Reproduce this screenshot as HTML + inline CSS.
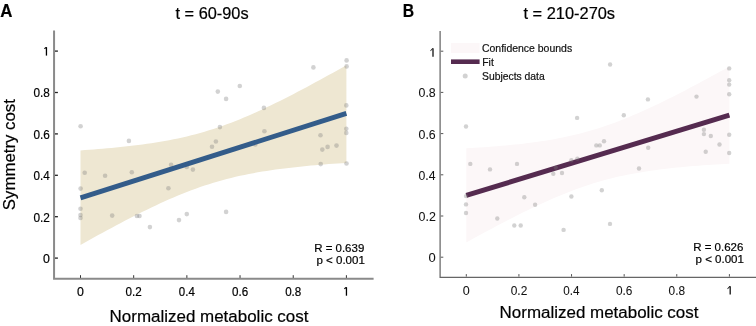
<!DOCTYPE html>
<html><head><meta charset="utf-8"><style>
html,body{margin:0;padding:0;background:#fff;}
svg{display:block;will-change:transform;}
text{font-family:"Liberation Sans",sans-serif;}
</style></head><body>
<svg width="756" height="326" viewBox="0 0 756 326">
<path d="M80.50,150.39 L84.93,150.08 L89.36,149.76 L93.80,149.42 L98.23,149.07 L102.66,148.70 L107.09,148.32 L111.52,147.92 L115.95,147.49 L120.38,147.05 L124.82,146.58 L129.25,146.09 L133.68,145.57 L138.11,145.03 L142.54,144.45 L146.97,143.83 L151.41,143.19 L155.84,142.50 L160.27,141.77 L164.70,141.00 L169.13,140.19 L173.56,139.32 L178.00,138.40 L182.43,137.43 L186.86,136.40 L191.29,135.31 L195.72,134.16 L200.15,132.94 L204.59,131.67 L209.02,130.32 L213.45,128.92 L217.88,127.44 L222.31,125.90 L226.75,124.30 L231.18,122.64 L235.61,120.91 L240.04,119.13 L244.47,117.29 L248.90,115.40 L253.33,113.46 L257.77,111.46 L262.20,109.43 L266.63,107.35 L271.06,105.23 L275.49,103.07 L279.92,100.88 L284.36,98.66 L288.79,96.41 L293.22,94.13 L297.65,91.82 L302.08,89.49 L306.51,87.14 L310.95,84.76 L315.38,82.37 L319.81,79.96 L324.24,77.53 L328.67,75.09 L333.10,72.63 L337.54,70.16 L341.97,67.67 L346.40,65.18 L346.40,162.88 L341.97,163.17 L337.54,163.48 L333.10,163.79 L328.67,164.12 L324.24,164.46 L319.81,164.82 L315.38,165.20 L310.95,165.59 L306.51,166.01 L302.08,166.44 L297.65,166.90 L293.22,167.38 L288.79,167.89 L284.36,168.42 L279.92,168.99 L275.49,169.58 L271.06,170.21 L266.63,170.88 L262.20,171.59 L257.77,172.34 L253.33,173.14 L248.90,173.98 L244.47,174.88 L240.04,175.83 L235.61,176.83 L231.18,177.90 L226.75,179.02 L222.31,180.21 L217.88,181.45 L213.45,182.77 L209.02,184.15 L204.59,185.59 L200.15,187.10 L195.72,188.68 L191.29,190.31 L186.86,192.01 L182.43,193.77 L178.00,195.58 L173.56,197.45 L169.13,199.37 L164.70,201.35 L160.27,203.36 L155.84,205.42 L151.41,207.52 L146.97,209.66 L142.54,211.84 L138.11,214.05 L133.68,216.29 L129.25,218.56 L124.82,220.85 L120.38,223.17 L115.95,225.52 L111.52,227.88 L107.09,230.27 L102.66,232.67 L98.23,235.09 L93.80,237.53 L89.36,239.98 L84.93,242.45 L80.50,244.93Z" fill="#eee7d2"/>
<circle cx="80.6" cy="126.3" r="2.3" fill="#7a7a7a" fill-opacity="0.34"/>
<circle cx="128.9" cy="140.9" r="2.3" fill="#7a7a7a" fill-opacity="0.34"/>
<circle cx="84.7" cy="172.8" r="2.3" fill="#7a7a7a" fill-opacity="0.34"/>
<circle cx="105.1" cy="175.7" r="2.3" fill="#7a7a7a" fill-opacity="0.34"/>
<circle cx="131.8" cy="172.3" r="2.3" fill="#7a7a7a" fill-opacity="0.34"/>
<circle cx="80.6" cy="188.6" r="2.3" fill="#7a7a7a" fill-opacity="0.34"/>
<circle cx="80.5" cy="208.7" r="2.3" fill="#7a7a7a" fill-opacity="0.34"/>
<circle cx="80.5" cy="215" r="2.3" fill="#7a7a7a" fill-opacity="0.34"/>
<circle cx="80.5" cy="218" r="2.3" fill="#7a7a7a" fill-opacity="0.34"/>
<circle cx="112.2" cy="215.6" r="2.3" fill="#7a7a7a" fill-opacity="0.34"/>
<circle cx="136.9" cy="216" r="2.3" fill="#7a7a7a" fill-opacity="0.34"/>
<circle cx="139.5" cy="216" r="2.3" fill="#7a7a7a" fill-opacity="0.34"/>
<circle cx="149.9" cy="227.1" r="2.3" fill="#7a7a7a" fill-opacity="0.34"/>
<circle cx="179" cy="220.1" r="2.3" fill="#7a7a7a" fill-opacity="0.34"/>
<circle cx="186.8" cy="214.1" r="2.3" fill="#7a7a7a" fill-opacity="0.34"/>
<circle cx="226.1" cy="211.9" r="2.3" fill="#7a7a7a" fill-opacity="0.34"/>
<circle cx="168.4" cy="188.3" r="2.3" fill="#7a7a7a" fill-opacity="0.34"/>
<circle cx="171.1" cy="164.8" r="2.3" fill="#7a7a7a" fill-opacity="0.34"/>
<circle cx="186.8" cy="167" r="2.3" fill="#7a7a7a" fill-opacity="0.34"/>
<circle cx="192.9" cy="169.6" r="2.3" fill="#7a7a7a" fill-opacity="0.34"/>
<circle cx="212" cy="146.8" r="2.3" fill="#7a7a7a" fill-opacity="0.34"/>
<circle cx="215.9" cy="141.5" r="2.3" fill="#7a7a7a" fill-opacity="0.34"/>
<circle cx="219.9" cy="127.1" r="2.3" fill="#7a7a7a" fill-opacity="0.34"/>
<circle cx="217.8" cy="91.6" r="2.3" fill="#7a7a7a" fill-opacity="0.34"/>
<circle cx="239.8" cy="86" r="2.3" fill="#7a7a7a" fill-opacity="0.34"/>
<circle cx="226.1" cy="98.9" r="2.3" fill="#7a7a7a" fill-opacity="0.34"/>
<circle cx="263.9" cy="107.9" r="2.3" fill="#7a7a7a" fill-opacity="0.34"/>
<circle cx="264.4" cy="131.2" r="2.3" fill="#7a7a7a" fill-opacity="0.34"/>
<circle cx="255.3" cy="144.4" r="2.3" fill="#7a7a7a" fill-opacity="0.34"/>
<circle cx="313.4" cy="67.4" r="2.3" fill="#7a7a7a" fill-opacity="0.34"/>
<circle cx="346.6" cy="60.4" r="2.3" fill="#7a7a7a" fill-opacity="0.34"/>
<circle cx="346.6" cy="66.4" r="2.3" fill="#7a7a7a" fill-opacity="0.34"/>
<circle cx="346.3" cy="105.4" r="2.3" fill="#7a7a7a" fill-opacity="0.34"/>
<circle cx="346.3" cy="128.7" r="2.3" fill="#7a7a7a" fill-opacity="0.34"/>
<circle cx="346.3" cy="132.9" r="2.3" fill="#7a7a7a" fill-opacity="0.34"/>
<circle cx="320.5" cy="135.3" r="2.3" fill="#7a7a7a" fill-opacity="0.34"/>
<circle cx="322.3" cy="149.6" r="2.3" fill="#7a7a7a" fill-opacity="0.34"/>
<circle cx="327.6" cy="146.9" r="2.3" fill="#7a7a7a" fill-opacity="0.34"/>
<circle cx="336.5" cy="145.6" r="2.3" fill="#7a7a7a" fill-opacity="0.34"/>
<circle cx="320.7" cy="164.1" r="2.3" fill="#7a7a7a" fill-opacity="0.34"/>
<circle cx="346.5" cy="163.5" r="2.3" fill="#7a7a7a" fill-opacity="0.34"/>
<line x1="80.50" y1="197.86" x2="346.40" y2="113.41" stroke="#335c8a" stroke-width="4.9"/>
<path d="M54.06,30.4 V278.8 H373.6" fill="none" stroke="#8a8a8a" stroke-width="2"/>
<line x1="55" y1="258.10" x2="57.9" y2="258.10" stroke="#222" stroke-width="1.3"/>
<line x1="80.50" y1="277.9" x2="80.50" y2="275.2" stroke="#333" stroke-width="1"/>
<line x1="55" y1="216.70" x2="57.9" y2="216.70" stroke="#222" stroke-width="1.3"/>
<line x1="133.68" y1="277.9" x2="133.68" y2="275.2" stroke="#333" stroke-width="1"/>
<line x1="55" y1="175.30" x2="57.9" y2="175.30" stroke="#222" stroke-width="1.3"/>
<line x1="186.86" y1="277.9" x2="186.86" y2="275.2" stroke="#333" stroke-width="1"/>
<line x1="55" y1="133.90" x2="57.9" y2="133.90" stroke="#222" stroke-width="1.3"/>
<line x1="240.04" y1="277.9" x2="240.04" y2="275.2" stroke="#333" stroke-width="1"/>
<line x1="55" y1="92.50" x2="57.9" y2="92.50" stroke="#222" stroke-width="1.3"/>
<line x1="293.22" y1="277.9" x2="293.22" y2="275.2" stroke="#333" stroke-width="1"/>
<line x1="55" y1="51.10" x2="57.9" y2="51.10" stroke="#222" stroke-width="1.3"/>
<line x1="346.40" y1="277.9" x2="346.40" y2="275.2" stroke="#333" stroke-width="1"/>
<text transform="translate(42.91,262.95) scale(0.9906,1)" font-size="12.47" font-weight="normal" fill="#000" stroke="#000" stroke-width="0.2">0</text>
<text transform="translate(33.43,221.55) scale(0.9497,1)" font-size="12.47" font-weight="normal" fill="#000" stroke="#000" stroke-width="0.2">0.2</text>
<text transform="translate(33.43,180.15) scale(0.9336,1)" font-size="12.47" font-weight="normal" fill="#000" stroke="#000" stroke-width="0.2">0.4</text>
<text transform="translate(33.43,138.75) scale(0.9443,1)" font-size="12.47" font-weight="normal" fill="#000" stroke="#000" stroke-width="0.2">0.6</text>
<text transform="translate(33.43,97.35) scale(0.9443,1)" font-size="12.47" font-weight="normal" fill="#000" stroke="#000" stroke-width="0.2">0.8</text>
<path d="M46.45,55.60 V47.30" stroke="#000" stroke-width="1.3" fill="none"/>
<path d="M47.10,47.00 L45.80,47.00 L44.10,48.20 L44.40,49.10 L45.80,48.40Z" fill="#000"/>
<text transform="translate(77.06,295.70) scale(1.0021,1)" font-size="12.33" font-weight="normal" fill="#000" stroke="#000" stroke-width="0.2">0</text>
<text transform="translate(125.61,295.70) scale(0.9483,1)" font-size="12.33" font-weight="normal" fill="#000" stroke="#000" stroke-width="0.2">0.2</text>
<text transform="translate(178.80,295.70) scale(0.9322,1)" font-size="12.33" font-weight="normal" fill="#000" stroke="#000" stroke-width="0.2">0.4</text>
<text transform="translate(231.97,295.70) scale(0.9429,1)" font-size="12.33" font-weight="normal" fill="#000" stroke="#000" stroke-width="0.2">0.6</text>
<text transform="translate(285.15,295.70) scale(0.9429,1)" font-size="12.33" font-weight="normal" fill="#000" stroke="#000" stroke-width="0.2">0.8</text>
<path d="M346.45,295.70 V287.40" stroke="#000" stroke-width="1.3" fill="none"/>
<path d="M347.10,287.10 L345.80,287.10 L344.10,288.30 L344.40,289.20 L345.80,288.50Z" fill="#000"/>
<text transform="translate(175.55,19.40) scale(1.0360,1)" font-size="15.77" font-weight="normal" fill="#000" stroke="#000" stroke-width="0.2">t = 60-90s</text>
<text transform="translate(109.60,321.50) scale(0.9805,1)" font-size="17.31" font-weight="normal" fill="#000" stroke="#000" stroke-width="0.2">Normalized metabolic cost</text>
<text transform="translate(14.70,210.16) rotate(-90) scale(0.9714,1)" font-size="17.31" fill="#000" stroke="#000" stroke-width="0.2">Symmetry cost</text>
<text transform="translate(314.15,251.80) scale(1.0136,1)" font-size="11.35" font-weight="normal" fill="#000" stroke="#000" stroke-width="0.2">R = 0.639</text>
<text transform="translate(316.45,263.80) scale(1.0180,1)" font-size="11.33" font-weight="normal" fill="#000" stroke="#000" stroke-width="0.2">p &lt; 0.001</text>
<text transform="translate(0.28,16.80) scale(0.8851,1)" font-size="19.05" font-weight="bold" fill="#000" stroke="#000" stroke-width="0.2">A</text>
<path d="M466.30,148.36 L470.69,148.10 L475.07,147.83 L479.46,147.54 L483.84,147.24 L488.23,146.92 L492.61,146.59 L497.00,146.24 L501.38,145.87 L505.76,145.47 L510.15,145.06 L514.53,144.61 L518.92,144.15 L523.31,143.65 L527.69,143.12 L532.08,142.56 L536.46,141.96 L540.85,141.33 L545.23,140.65 L549.62,139.93 L554.00,139.17 L558.38,138.35 L562.77,137.49 L567.15,136.57 L571.54,135.59 L575.93,134.55 L580.31,133.46 L584.70,132.30 L589.08,131.07 L593.47,129.79 L597.85,128.43 L602.24,127.01 L606.62,125.53 L611.00,123.99 L615.39,122.38 L619.78,120.71 L624.16,118.98 L628.55,117.20 L632.93,115.37 L637.32,113.48 L641.70,111.55 L646.09,109.57 L650.47,107.55 L654.86,105.49 L659.24,103.39 L663.62,101.26 L668.01,99.09 L672.39,96.90 L676.78,94.68 L681.16,92.43 L685.55,90.16 L689.94,87.87 L694.32,85.55 L698.71,83.22 L703.09,80.87 L707.48,78.50 L711.86,76.11 L716.25,73.72 L720.63,71.30 L725.02,68.88 L729.40,66.44 L729.40,163.68 L725.02,163.92 L720.63,164.17 L716.25,164.44 L711.86,164.72 L707.48,165.01 L703.09,165.32 L698.71,165.65 L694.32,165.99 L689.94,166.36 L685.55,166.74 L681.16,167.15 L676.78,167.58 L672.39,168.03 L668.01,168.52 L663.62,169.03 L659.24,169.58 L654.86,170.16 L650.47,170.78 L646.09,171.43 L641.70,172.13 L637.32,172.88 L632.93,173.67 L628.55,174.51 L624.16,175.41 L619.78,176.36 L615.39,177.37 L611.00,178.44 L606.62,179.57 L602.24,180.77 L597.85,182.03 L593.47,183.35 L589.08,184.74 L584.70,186.20 L580.31,187.71 L575.93,189.30 L571.54,190.94 L567.15,192.64 L562.77,194.40 L558.38,196.21 L554.00,198.07 L549.62,199.98 L545.23,201.94 L540.85,203.95 L536.46,205.99 L532.08,208.07 L527.69,210.19 L523.31,212.34 L518.92,214.52 L514.53,216.73 L510.15,218.96 L505.76,221.23 L501.38,223.51 L497.00,225.82 L492.61,228.14 L488.23,230.49 L483.84,232.85 L479.46,235.22 L475.07,237.62 L470.69,240.02 L466.30,242.44Z" fill="#fcf7f8"/>
<line x1="466.30" y1="195.40" x2="729.40" y2="115.06" stroke="#552b50" stroke-width="5"/>
<circle cx="466" cy="126.5" r="2.2" fill="#7a7a7a" fill-opacity="0.34"/>
<circle cx="470.3" cy="163.9" r="2.2" fill="#7a7a7a" fill-opacity="0.34"/>
<circle cx="490" cy="169.4" r="2.2" fill="#7a7a7a" fill-opacity="0.34"/>
<circle cx="517" cy="163.9" r="2.2" fill="#7a7a7a" fill-opacity="0.34"/>
<circle cx="553.3" cy="173.8" r="2.2" fill="#7a7a7a" fill-opacity="0.34"/>
<circle cx="562" cy="173" r="2.2" fill="#7a7a7a" fill-opacity="0.34"/>
<circle cx="555.8" cy="167.6" r="2.2" fill="#7a7a7a" fill-opacity="0.34"/>
<circle cx="571.4" cy="160.2" r="2.2" fill="#7a7a7a" fill-opacity="0.34"/>
<circle cx="577.4" cy="158.6" r="2.2" fill="#7a7a7a" fill-opacity="0.34"/>
<circle cx="524.3" cy="197.2" r="2.2" fill="#7a7a7a" fill-opacity="0.34"/>
<circle cx="571.4" cy="196.5" r="2.2" fill="#7a7a7a" fill-opacity="0.34"/>
<circle cx="466" cy="196.1" r="2.2" fill="#7a7a7a" fill-opacity="0.34"/>
<circle cx="466" cy="204.4" r="2.2" fill="#7a7a7a" fill-opacity="0.34"/>
<circle cx="466" cy="213" r="2.2" fill="#7a7a7a" fill-opacity="0.34"/>
<circle cx="497.3" cy="218.5" r="2.2" fill="#7a7a7a" fill-opacity="0.34"/>
<circle cx="514.3" cy="225.5" r="2.2" fill="#7a7a7a" fill-opacity="0.34"/>
<circle cx="520.7" cy="225.5" r="2.2" fill="#7a7a7a" fill-opacity="0.34"/>
<circle cx="535.1" cy="204.7" r="2.2" fill="#7a7a7a" fill-opacity="0.34"/>
<circle cx="563.6" cy="229.9" r="2.2" fill="#7a7a7a" fill-opacity="0.34"/>
<circle cx="610.1" cy="64.5" r="2.2" fill="#7a7a7a" fill-opacity="0.34"/>
<circle cx="647.9" cy="99.4" r="2.2" fill="#7a7a7a" fill-opacity="0.34"/>
<circle cx="577.1" cy="117.9" r="2.2" fill="#7a7a7a" fill-opacity="0.34"/>
<circle cx="623.8" cy="115.3" r="2.2" fill="#7a7a7a" fill-opacity="0.34"/>
<circle cx="596.3" cy="145.4" r="2.2" fill="#7a7a7a" fill-opacity="0.34"/>
<circle cx="599.8" cy="145.4" r="2.2" fill="#7a7a7a" fill-opacity="0.34"/>
<circle cx="604" cy="141.3" r="2.2" fill="#7a7a7a" fill-opacity="0.34"/>
<circle cx="648.2" cy="147.7" r="2.2" fill="#7a7a7a" fill-opacity="0.34"/>
<circle cx="639" cy="168.5" r="2.2" fill="#7a7a7a" fill-opacity="0.34"/>
<circle cx="601.8" cy="190.2" r="2.2" fill="#7a7a7a" fill-opacity="0.34"/>
<circle cx="610" cy="223.9" r="2.2" fill="#7a7a7a" fill-opacity="0.34"/>
<circle cx="729.2" cy="68.4" r="2.2" fill="#7a7a7a" fill-opacity="0.34"/>
<circle cx="729.2" cy="80.2" r="2.2" fill="#7a7a7a" fill-opacity="0.34"/>
<circle cx="729.2" cy="84.6" r="2.2" fill="#7a7a7a" fill-opacity="0.34"/>
<circle cx="729.2" cy="94.2" r="2.2" fill="#7a7a7a" fill-opacity="0.34"/>
<circle cx="696.5" cy="96.6" r="2.2" fill="#7a7a7a" fill-opacity="0.34"/>
<circle cx="703.9" cy="129.7" r="2.2" fill="#7a7a7a" fill-opacity="0.34"/>
<circle cx="703.9" cy="134.1" r="2.2" fill="#7a7a7a" fill-opacity="0.34"/>
<circle cx="710.8" cy="136" r="2.2" fill="#7a7a7a" fill-opacity="0.34"/>
<circle cx="729.2" cy="134.8" r="2.2" fill="#7a7a7a" fill-opacity="0.34"/>
<circle cx="719.5" cy="144.5" r="2.2" fill="#7a7a7a" fill-opacity="0.34"/>
<circle cx="705.7" cy="151.8" r="2.2" fill="#7a7a7a" fill-opacity="0.34"/>
<circle cx="729.2" cy="153" r="2.2" fill="#7a7a7a" fill-opacity="0.34"/>
<path d="M440.1,31 V277.3 H756" fill="none" stroke="#666" stroke-width="1.25"/>
<line x1="440.8" y1="257.20" x2="443.3" y2="257.20" stroke="#555" stroke-width="1"/>
<line x1="466.30" y1="276.6" x2="466.30" y2="274.1" stroke="#555" stroke-width="1"/>
<line x1="440.8" y1="216.00" x2="443.3" y2="216.00" stroke="#555" stroke-width="1"/>
<line x1="518.92" y1="276.6" x2="518.92" y2="274.1" stroke="#555" stroke-width="1"/>
<line x1="440.8" y1="174.80" x2="443.3" y2="174.80" stroke="#555" stroke-width="1"/>
<line x1="571.54" y1="276.6" x2="571.54" y2="274.1" stroke="#555" stroke-width="1"/>
<line x1="440.8" y1="133.60" x2="443.3" y2="133.60" stroke="#555" stroke-width="1"/>
<line x1="624.16" y1="276.6" x2="624.16" y2="274.1" stroke="#555" stroke-width="1"/>
<line x1="440.8" y1="92.40" x2="443.3" y2="92.40" stroke="#555" stroke-width="1"/>
<line x1="676.78" y1="276.6" x2="676.78" y2="274.1" stroke="#555" stroke-width="1"/>
<line x1="440.8" y1="51.20" x2="443.3" y2="51.20" stroke="#555" stroke-width="1"/>
<line x1="729.40" y1="276.6" x2="729.40" y2="274.1" stroke="#555" stroke-width="1"/>
<text transform="translate(428.48,262.25) scale(1.0655,1)" font-size="12.19" font-weight="normal" fill="#111" stroke="#111" stroke-width="0.05">0</text>
<text transform="translate(418.50,221.05) scale(1.0226,1)" font-size="12.19" font-weight="normal" fill="#111" stroke="#111" stroke-width="0.05">0.2</text>
<text transform="translate(418.51,179.85) scale(1.0052,1)" font-size="12.19" font-weight="normal" fill="#111" stroke="#111" stroke-width="0.05">0.4</text>
<text transform="translate(418.50,138.65) scale(1.0167,1)" font-size="12.19" font-weight="normal" fill="#111" stroke="#111" stroke-width="0.05">0.6</text>
<text transform="translate(418.50,97.45) scale(1.0167,1)" font-size="12.19" font-weight="normal" fill="#111" stroke="#111" stroke-width="0.05">0.8</text>
<path d="M433.00,56.80 V48.50" stroke="#1a1a1a" stroke-width="1.35" fill="none"/>
<path d="M433.68,48.20 L432.32,48.20 L430.30,50.40 L430.60,51.30 L432.32,49.60Z" fill="#1a1a1a"/>
<text transform="translate(462.80,294.60) scale(1.0311,1)" font-size="12.19" font-weight="normal" fill="#111" stroke="#111" stroke-width="0.05">0</text>
<text transform="translate(510.69,294.60) scale(0.9784,1)" font-size="12.19" font-weight="normal" fill="#111" stroke="#111" stroke-width="0.05">0.2</text>
<text transform="translate(563.32,294.60) scale(0.9617,1)" font-size="12.19" font-weight="normal" fill="#111" stroke="#111" stroke-width="0.05">0.4</text>
<text transform="translate(615.94,294.60) scale(0.9728,1)" font-size="12.19" font-weight="normal" fill="#111" stroke="#111" stroke-width="0.05">0.6</text>
<text transform="translate(668.56,294.60) scale(0.9728,1)" font-size="12.19" font-weight="normal" fill="#111" stroke="#111" stroke-width="0.05">0.8</text>
<path d="M730.20,294.50 V286.40" stroke="#1a1a1a" stroke-width="1.35" fill="none"/>
<path d="M730.88,286.10 L729.53,286.10 L727.30,288.40 L727.60,289.30 L729.53,287.50Z" fill="#1a1a1a"/>
<text transform="translate(523.45,19.40) scale(1.0409,1)" font-size="15.77" font-weight="normal" fill="#000" stroke="#000" stroke-width="0.2">t = 210-270s</text>
<text transform="translate(499.60,317.90) scale(0.9967,1)" font-size="17.02" font-weight="normal" fill="#000" stroke="#000" stroke-width="0.2">Normalized metabolic cost</text>
<text transform="translate(693.15,250.70) scale(1.0418,1)" font-size="11.05" font-weight="normal" fill="#000" stroke="#000" stroke-width="0.2">R = 0.626</text>
<text transform="translate(695.55,262.80) scale(1.0310,1)" font-size="11.18" font-weight="normal" fill="#000" stroke="#000" stroke-width="0.2">p &lt; 0.001</text>
<text transform="translate(402.74,17.00) scale(0.8387,1)" font-size="18.76" font-weight="bold" fill="#000" stroke="#000" stroke-width="0.2">B</text>
<rect x="451" y="42.9" width="28.6" height="10.1" fill="#fcf7f8"/>
<line x1="451" y1="61.7" x2="479.6" y2="61.7" stroke="#552b50" stroke-width="4.6"/>
<circle cx="465.2" cy="76" r="2.5" fill="#d2d2d2"/>
<text transform="translate(481.98,51.50) scale(0.9723,1)" font-size="10.76" font-weight="normal" fill="#111" stroke="#111" stroke-width="0.2">Confidence bounds</text>
<text transform="translate(482.24,65.70) scale(0.9526,1)" font-size="10.91" font-weight="normal" fill="#111" stroke="#111" stroke-width="0.2">Fit</text>
<text transform="translate(482.03,79.50) scale(1.0033,1)" font-size="10.33" font-weight="normal" fill="#111" stroke="#111" stroke-width="0.2">Subjects data</text>
</svg></body></html>
